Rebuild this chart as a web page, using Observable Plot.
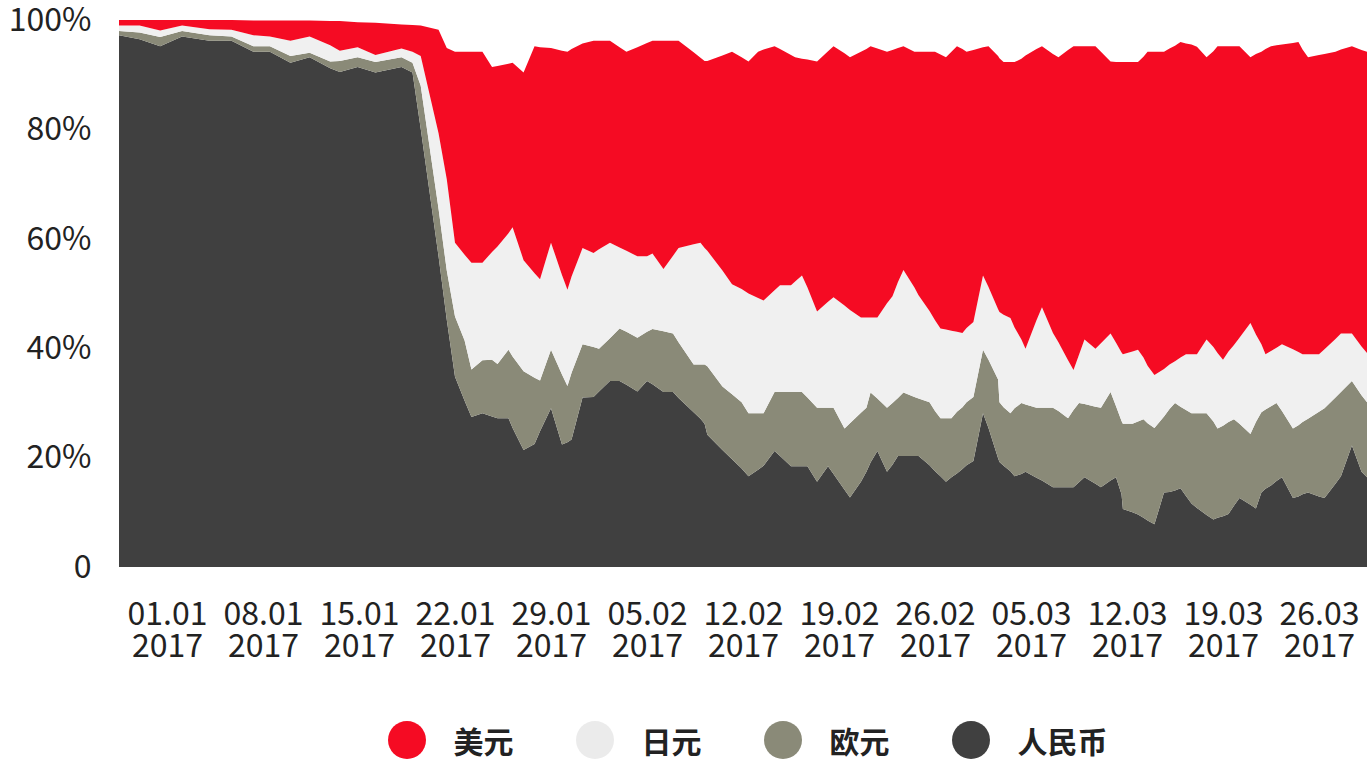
<!DOCTYPE html>
<html>
<head>
<meta charset="utf-8">
<script src="https://cdn.jsdelivr.net/npm/d3@7"></script>
<script src="https://cdn.jsdelivr.net/npm/@observablehq/plot@0.6"></script>
<style>
  html, body { margin: 0; padding: 0; background: #fff; }
  body { width: 1368px; font-family: "Noto Sans CJK SC", "Noto Sans", sans-serif; }
  #legend { display: flex; justify-content: center; align-items: center; padding-left: 127px; margin-top: 41px; gap: 62px; }
  .item { display: flex; align-items: center; gap: 28px; }
  .dot { width: 38px; height: 38px; border-radius: 50%; }
  .lab { font-size: 30px; font-weight: 700; color: #222; line-height: 38px; }
</style>
</head>
<body>
<div id="chart"></div>
<div id="legend"></div>
<script>
// Currencies (stack order bottom -> top) and colours
const currencies = ["人民币", "欧元", "日元", "美元"];
const colors = ["#404040", "#8a8a78", "#f0f0f0", "#f50b23"];
const legendOrder = ["美元", "日元", "欧元", "人民币"];
const legendColors = ["#f50b23", "#ebebeb", "#8a8a78", "#404040"];

// Days since 01.01.2017
const days = [
  0, 1.5, 3.0, 4.6, 6.6, 8.2, 9.8, 11.0, 12.5, 13.9,
  15.4, 16.1, 17.4, 18.7, 20.6, 21.4, 22.0, 23.3, 23.9, 24.5,
  25.2, 25.7, 26.5, 27.2, 27.6, 28.4, 28.7, 29.5, 30.3, 30.7,
  31.5, 32.3, 32.7, 33.0, 33.8, 34.6, 35.0, 35.8, 36.5, 37.0,
  37.8, 38.5, 38.9, 39.7, 40.4, 40.8, 41.9, 42.4, 42.7, 42.9,
  44.0, 44.7, 45.4, 45.9, 46.6, 47.0, 47.8, 48.2, 49.0, 49.3,
  49.8, 50.2, 50.9, 51.7, 52.1, 52.9, 53.3, 54.1, 54.5, 54.8,
  55.3, 56.0, 56.4, 56.8, 57.2, 58.0, 58.3, 59.1, 59.5, 59.9,
  60.3, 60.7, 61.1, 61.5, 61.8, 62.3, 63.0, 63.4, 64.1, 64.2,
  64.5, 65.0, 65.3, 65.8, 66.1, 66.9, 67.3, 68.1, 68.5, 69.2,
  69.6, 70.0, 70.4, 71.2, 71.6, 72.3, 72.7, 73.1, 73.2, 73.9,
  74.3, 74.7, 75.0, 75.5, 76.2, 76.6, 77.0, 77.4, 77.8, 78.2,
  78.6, 79.3, 79.8, 80.1, 80.5, 80.9, 81.3, 81.7, 82.5, 82.9,
  83.3, 83.6, 84.0, 84.4, 84.8, 85.6, 86.0, 86.3, 86.7, 87.5,
  87.9, 88.7, 89.1, 89.9, 90.6, 91.0
];

// Shares (%) per currency
const rmb = [
  97.2, 96.5, 95.2, 97.0, 96.2, 96.2, 94.2, 94.2, 92.2, 93.2,
  91.2, 90.5, 91.4, 90.4, 91.4, 90.4, 80.1, 56.8, 45.2, 34.8,
  30.4, 27.4, 28.1, 27.5, 27.2, 27.2, 25.4, 21.4, 22.5, 24.8,
  29.0, 22.4, 22.8, 23.3, 31.0, 31.1, 32.1, 34.0, 34.0, 33.3,
  32.1, 34.0, 33.4, 32.0, 32.0, 30.9, 28.3, 27.1, 26.2, 24.2,
  21.4, 19.7, 18.0, 16.6, 17.8, 18.5, 21.2, 20.3, 18.4, 18.4,
  18.4, 18.4, 15.6, 18.4, 17.0, 14.1, 12.7, 15.6, 17.4, 19.1,
  21.2, 17.4, 18.7, 20.3, 20.3, 20.3, 20.3, 18.6, 17.5, 16.6,
  15.6, 16.4, 17.1, 17.9, 18.6, 19.4, 28.1, 25.4, 19.9, 19.2,
  18.5, 17.5, 16.6, 17.0, 17.4, 16.3, 15.8, 14.6, 14.6, 14.6,
  14.6, 15.5, 16.4, 15.2, 14.6, 15.8, 16.4, 13.3, 10.6, 10.0,
  9.6, 9.0, 8.5, 7.8, 13.6, 13.7, 14.0, 14.4, 13.0, 11.6,
  10.8, 9.5, 8.7, 9.0, 9.3, 9.7, 11.2, 12.6, 11.4, 10.7,
  13.6, 14.3, 14.9, 15.7, 16.4, 12.6, 12.9, 13.3, 13.6, 12.9,
  12.6, 15.2, 16.6, 22.2, 17.4, 16.4
];
const eur = [
  0.8, 1.2, 1.7, 1.0, 1.0, 0.8, 1.0, 1.0, 1.2, 0.8,
  1.2, 2.0, 1.8, 1.9, 1.8, 1.8, 7.9, 8.7, 9.0, 11.0,
  11.0, 8.7, 9.7, 10.4, 9.9, 12.5, 13.1, 14.4, 12.1, 9.3,
  10.7, 12.8, 10.3, 12.2, 9.7, 9.1, 7.8, 7.8, 9.6, 9.7,
  9.8, 9.0, 10.1, 11.1, 10.7, 10.2, 8.7, 9.9, 10.8, 12.5,
  11.6, 11.9, 12.1, 11.5, 10.3, 9.6, 10.8, 11.7, 13.6, 13.6,
  13.6, 12.6, 13.5, 10.7, 12.1, 11.2, 13.6, 12.6, 11.7, 12.8,
  9.6, 11.7, 11.3, 10.6, 11.6, 10.8, 10.5, 11.5, 11.0, 10.6,
  11.6, 10.8, 11.3, 11.3, 11.5, 11.7, 11.6, 12.5, 14.4, 10.9,
  10.7, 10.6, 12.4, 13.0, 12.3, 12.8, 13.3, 14.5, 13.9, 12.6,
  14.1, 14.5, 13.4, 14.1, 14.5, 16.2, 13.0, 13.4, 15.6, 16.2,
  17.0, 18.0, 17.8, 17.6, 13.9, 15.2, 16.0, 14.9, 15.7, 16.5,
  17.3, 18.6, 17.9, 16.3, 16.5, 16.8, 15.8, 13.6, 12.9, 15.8,
  14.7, 14.5, 14.5, 14.3, 12.1, 12.7, 13.0, 13.2, 13.5, 15.5,
  16.4, 15.8, 15.4, 11.8, 14.0, 13.7
];
const jpy = [
  1.0, 1.3, 1.2, 1.0, 1.1, 1.2, 2.0, 1.8, 2.8, 3.0,
  3.0, 1.9, 1.8, 1.3, 1.6, 2.0, 5.4, 13.8, 16.7, 13.5,
  15.7, 19.5, 17.8, 19.7, 21.5, 21.3, 23.6, 20.3, 19.1, 18.5,
  19.6, 18.2, 17.6, 17.6, 17.6, 17.2, 18.2, 17.5, 14.8, 14.8,
  14.9, 13.8, 13.8, 11.4, 14.2, 17.2, 22.0, 22.3, 21.3, 21.1,
  21.2, 20.1, 20.7, 21.9, 21.1, 20.6, 18.6, 19.5, 19.5, 20.2,
  21.3, 20.1, 17.6, 19.4, 20.2, 22.5, 20.7, 17.4, 16.5, 13.7,
  14.8, 19.1, 19.5, 21.2, 22.4, 20.0, 18.9, 16.7, 16.6, 16.4,
  16.2, 16.0, 14.6, 13.6, 13.6, 13.7, 13.6, 13.3, 12.8, 16.5,
  16.9, 17.4, 14.8, 11.6, 10.2, 16.0, 18.4, 13.7, 12.6, 10.6,
  7.3, 8.8, 11.8, 10.6, 11.8, 10.7, 11.6, 12.5, 12.7, 13.2,
  13.1, 11.3, 10.5, 9.7, 8.7, 8.1, 7.6, 9.0, 10.2, 10.8,
  10.8, 13.5, 13.6, 13.8, 12.1, 12.9, 13.6, 15.7, 20.3, 16.0,
  12.4, 10.1, 10.1, 10.1, 12.2, 14.5, 13.4, 12.4, 11.8, 10.5,
  10.8, 10.7, 10.7, 8.7, 8.9, 9.0
];
const usd = [
  1.0, 1.0, 1.9, 1.0, 1.7, 1.8, 2.7, 2.9, 3.7, 2.9,
  4.4, 5.4, 4.6, 5.9, 4.4, 4.9, 5.6, 18.9, 24.0, 34.9,
  37.1, 38.6, 38.6, 33.8, 33.0, 31.0, 30.1, 34.3, 41.5, 42.4,
  35.6, 41.0, 43.5, 41.6, 37.4, 38.8, 38.1, 36.9, 36.6, 36.4,
  38.2, 39.0, 38.9, 41.7, 39.3, 37.9, 35.1, 33.8, 34.2, 34.7,
  39.3, 42.5, 42.4, 42.4, 45.0, 45.9, 44.6, 43.2, 42.1, 41.0,
  39.6, 41.7, 45.7, 45.8, 45.9, 46.1, 46.2, 48.6, 49.1, 49.6,
  49.2, 46.0, 45.0, 42.8, 40.9, 43.1, 44.5, 47.4, 49.1, 50.1,
  49.8, 51.0, 52.2, 51.9, 50.5, 49.7, 41.7, 44.0, 46.3, 46.4,
  46.2, 46.8, 48.5, 51.3, 53.6, 49.6, 47.7, 51.0, 52.1, 56.7,
  59.2, 56.4, 53.6, 55.3, 53.3, 49.7, 51.3, 53.1, 53.4, 52.9,
  52.6, 55.0, 57.4, 59.1, 58.0, 57.8, 57.7, 57.7, 56.8, 56.6,
  56.2, 51.6, 54.1, 56.1, 57.3, 55.8, 54.6, 53.3, 48.6, 51.3,
  53.5, 55.8, 55.7, 55.3, 54.8, 56.0, 56.7, 55.7, 54.3, 54.7,
  54.0, 52.5, 51.9, 52.5, 54.2, 55.1
];

// Week starts (days since 01.01.2017) and their labels
const weekStarts = [0, 7, 14, 21, 28, 35, 42, 49, 56, 63, 70, 77, 84];
const weekLabels = ["01.01", "08.01", "15.01", "22.01", "29.01", "05.02", "12.02",
                    "19.02", "26.02", "05.03", "12.03", "19.03", "26.03"];
const yearLabel = "2017";
const yTicks = [0, 20, 40, 60, 80, 100];

const seriesValues = { "人民币": rmb, "欧元": eur, "日元": jpy, "美元": usd };
const rows = [];
for (const c of currencies) {
  seriesValues[c].forEach((v, i) => rows.push({ d: days[i], cur: c, v }));
}
const tickPos = weekStarts.map(w => w + 3.5);

const fontFamily = "'Noto Sans CJK SC', 'Noto Sans', sans-serif";
const chart = Plot.plot({
  width: 1368,
  height: 680,
  marginLeft: 119,
  marginRight: 1,
  marginTop: 20,
  marginBottom: 113,
  style: { fontFamily, background: "transparent", color: "#222" },
  x: { type: "linear", domain: [0, 91] },
  y: { domain: [0, 100] },
  color: { domain: currencies, range: colors },
  marks: [
    Plot.areaY(rows, { x: "d", y: "v", z: "cur", fill: "cur", order: currencies }),
    Plot.axisY({ ticks: yTicks, tickSize: 0, tickPadding: 28, fontSize: 32, label: null,
      tickFormat: d => d === 0 ? "0" : d + "%" }),
    Plot.axisX({ ticks: tickPos, tickSize: 0, tickPadding: 35, fontSize: 32, label: null,
      tickFormat: (d, i) => weekLabels[i] }),
    Plot.axisX({ ticks: tickPos, tickSize: 0, tickPadding: 66.5, fontSize: 32, label: null,
      tickFormat: () => yearLabel })
  ]
});
document.getElementById("chart").appendChild(chart);

const legend = document.getElementById("legend");
legendOrder.forEach((name, i) => {
  const item = document.createElement("div");
  item.className = "item";
  const dot = document.createElement("div");
  dot.className = "dot";
  dot.style.background = legendColors[i];
  const lab = document.createElement("span");
  lab.className = "lab";
  lab.textContent = name;
  item.appendChild(dot);
  item.appendChild(lab);
  legend.appendChild(item);
});
</script>
</body>
</html>
